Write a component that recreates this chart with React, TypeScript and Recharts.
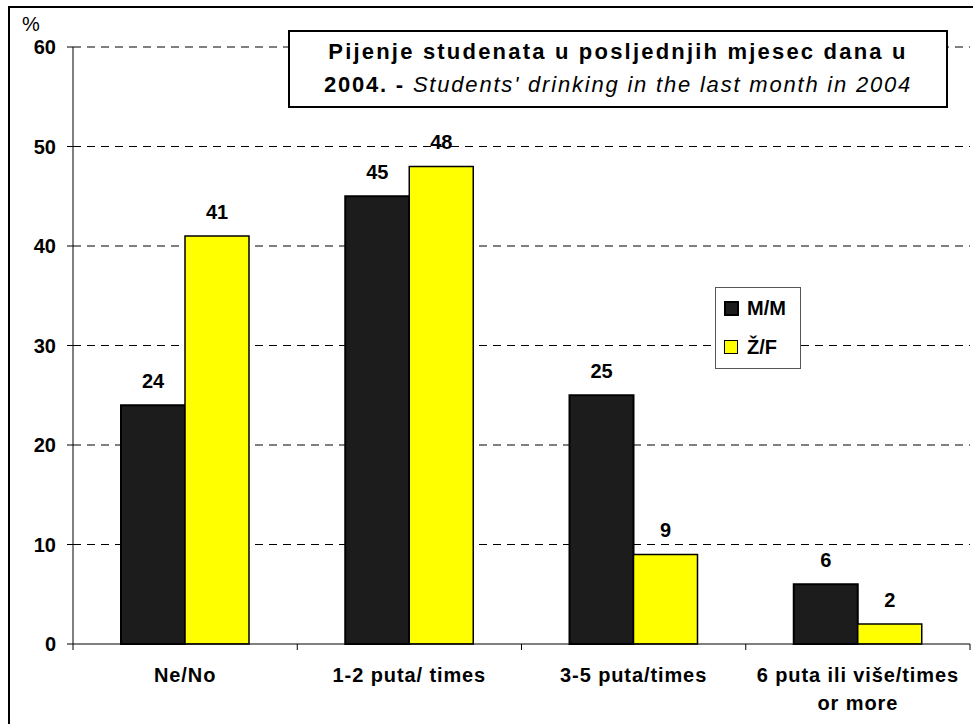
import React from "react"
import { BarChart, Bar, XAxis, YAxis, CartesianGrid, LabelList } from "recharts"

const categories = ["Ne/No", "1-2 puta/ times", "3-5 puta/times", "6 puta ili više/times\nor more"]
const male = [24, 45, 25, 6]
const female = [41, 48, 9, 2]
const yTicks = [0, 10, 20, 30, 40, 50, 60]

const data = categories.map((name, i) => ({ name, m: male[i], f: female[i] }))

const FONT = "'Liberation Sans', Arial, sans-serif"
const BAND = 897 / 4

const XTick = (props: any) => {
  const { x, y, payload, index } = props
  const lines = String(payload.value).split("\n")
  return (
    <g>
      <line x1={x - BAND / 2} y1={y - 8} x2={x - BAND / 2} y2={y - 2} stroke="#000" />
      {index === categories.length - 1 && (
        <line x1={x + BAND / 2} y1={y - 8} x2={x + BAND / 2} y2={y - 2} stroke="#000" />
      )}
      {lines.map((l, i) => (
        <text key={i} x={x} y={y + 30 + i * 28} textAnchor="middle" fontFamily={FONT} fontWeight="bold" fontSize={20} letterSpacing={0.9} fill="#000">
          {l}
        </text>
      ))}
    </g>
  )
}

export default function App() {
  return (
    <div style={{ position: "absolute", left: 0, top: 0, width: 973, height: 724, overflow: "hidden", background: "#fff" }}>
      <div style={{ position: "absolute", left: 8, top: 6, width: 1100, height: 1100, border: "2px solid #000" }} />
      <div style={{ position: "absolute", left: 22, top: 13, fontFamily: FONT, fontSize: 20 }}>%</div>
      <div style={{ position: "absolute", left: 0, top: 0 }}>
        <BarChart width={973} height={724} data={data} margin={{ top: 47, right: 3, bottom: 0, left: 0 }} barSize={64} barGap={0}>
          <CartesianGrid vertical={false} stroke="#000" strokeDasharray="8 6" horizontalValues={[10, 20, 30, 40, 50, 60]} />
          <XAxis dataKey="name" stroke="#000" tickLine={false} tick={<XTick />} interval={0} height={80} />
          <YAxis
            domain={[0, 60]}
            ticks={yTicks}
            width={73}
            stroke="#000"
            tickSize={6}
            tickMargin={11}
            tick={{ fontFamily: FONT, fontWeight: "bold", fontSize: 20, fill: "#000" }}
          />
          <Bar dataKey="m" fill="#1c1c1c" stroke="#000" strokeWidth={2} isAnimationActive={false}>
            <LabelList dataKey="m" position="top" offset={17} fontFamily={FONT} fontWeight="bold" fontSize={20} fill="#000" />
          </Bar>
          <Bar dataKey="f" fill="#ffff00" stroke="#000" strokeWidth={1.5} isAnimationActive={false}>
            <LabelList dataKey="f" position="top" offset={17} fontFamily={FONT} fontWeight="bold" fontSize={20} fill="#000" />
          </Bar>
        </BarChart>
      </div>
      <div style={{ position: "absolute", left: 715, top: 287, width: 84, height: 80, border: "1px solid #555", background: "#fff", fontFamily: FONT, fontWeight: "bold", fontSize: 20 }}>
        <div style={{ display: "flex", alignItems: "center", marginTop: 8, marginLeft: 8, height: 24 }}>
          <span style={{ width: 11, height: 11, background: "#1c1c1c", border: "2px solid #000", marginRight: 8 }} />
          M/M
        </div>
        <div style={{ display: "flex", alignItems: "center", marginTop: 15, marginLeft: 8, height: 24 }}>
          <span style={{ width: 12, height: 12, background: "#ffff00", border: "1px solid #000", marginRight: 9 }} />
          Ž/F
        </div>
      </div>
      <div
        style={{
          position: "absolute",
          left: 288,
          top: 30,
          width: 656,
          height: 71,
          border: "2px solid #000",
          background: "#fff",
          fontFamily: FONT,
          fontSize: 22,
          textAlign: "center",
          lineHeight: "33px",
          paddingTop: 3,
          letterSpacing: 1.8,
          whiteSpace: "nowrap",
        }}
      >
        <div style={{ fontWeight: "bold", letterSpacing: 2.2 }}>Pijenje studenata u posljednjih mjesec dana u</div>
        <div>
          <b>2004. - </b>
          <i>Students' drinking in the last month in 2004</i>
        </div>
      </div>
    </div>
  )
}
